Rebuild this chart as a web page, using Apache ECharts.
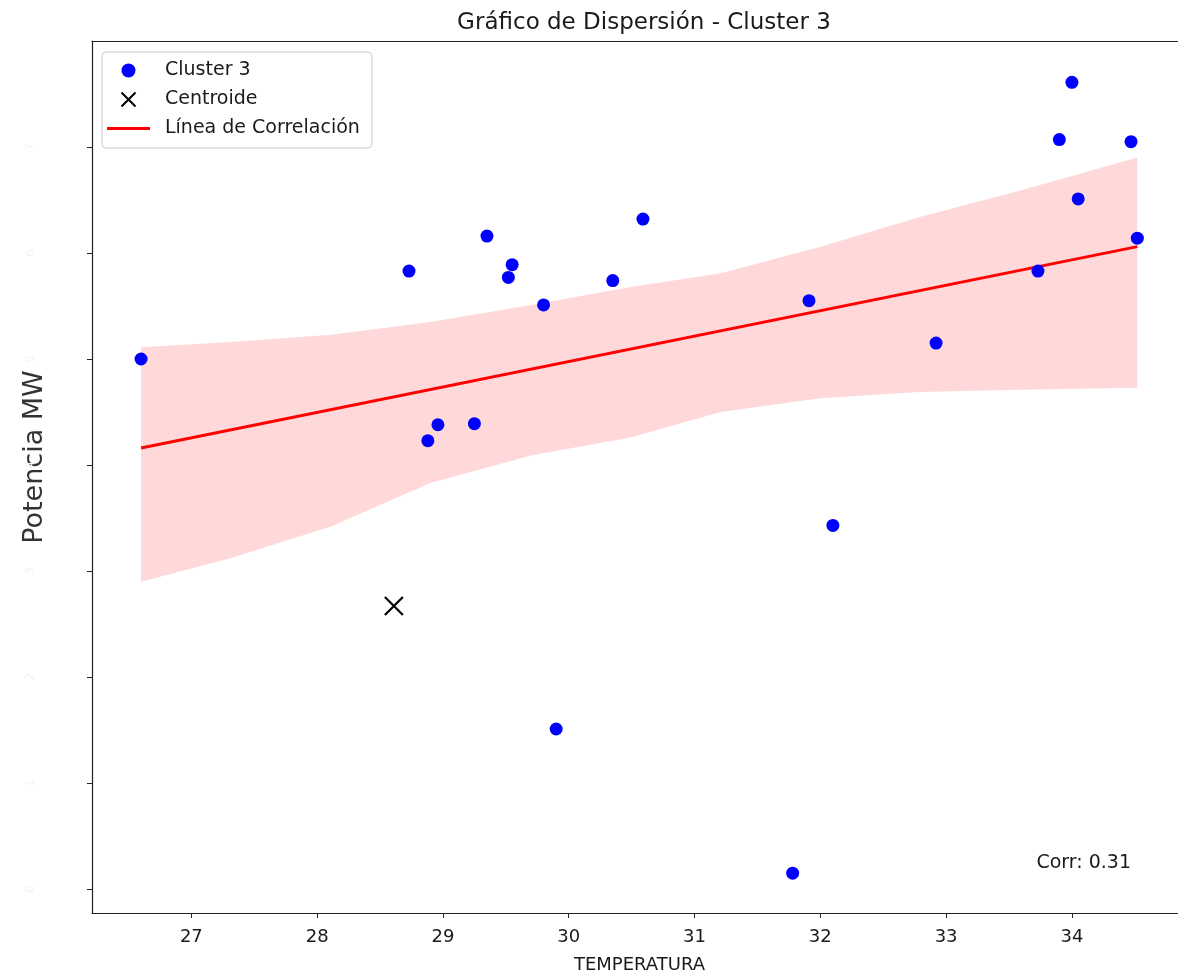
<!DOCTYPE html>
<html>
<head>
<meta charset="utf-8">
<script src="https://cdn.jsdelivr.net/npm/echarts@6/dist/echarts.min.js"></script>
<style>
html,body{margin:0;padding:0;background:#fff;}
#chart{width:1178px;height:973px;}
</style>
</head>
<body>
<div id="chart"></div>
<script>
// ---- data ----
const clusterX = [26.60, 28.73, 28.88, 28.96, 29.25, 29.35, 29.52, 29.55, 29.80, 29.90, 30.35, 30.59, 31.78, 31.91, 32.10, 32.92, 33.73, 33.90, 34.00, 34.05, 34.47, 34.52];
const clusterY = [5.00, 5.83, 4.23, 4.38, 4.39, 6.16, 5.77, 5.89, 5.51, 1.51, 5.74, 6.32, 0.15, 5.55, 3.43, 5.15, 5.83, 7.07, 7.61, 6.51, 7.05, 6.14];
const centroidX = [28.61];
const centroidY = [2.67];
const regX = [26.60, 34.52];
const regY = [4.16, 6.06];
const bandX = [26.60, 27.31, 28.11, 28.90, 29.70, 30.49, 31.21, 32.00, 32.79, 33.59, 34.52];
const bandUpper = [5.11, 5.16, 5.23, 5.35, 5.51, 5.68, 5.81, 6.06, 6.34, 6.59, 6.90];
const bandLower = [2.90, 3.12, 3.42, 3.83, 4.09, 4.26, 4.50, 4.63, 4.69, 4.71, 4.73];
const xTickValues = [27, 28, 29, 30, 31, 32, 33, 34];
const yTickValues = [0, 1, 2, 3, 4, 5, 6, 7];
const yTickLabels = ['0', '1', '2', '3', '4', '5', '6', '7'];
const corrText = 'Corr: 0.31';

const FONT = 'DejaVu Sans';
const chart = echarts.init(document.getElementById('chart'), null, {renderer: 'canvas'});

const xMin = 26.21, xMax = 34.915, yMin = -0.226, yMax = 8.0;
const LINE_ICON = 'path://M0,0 L0.01,0 L0.01,0.01 Z M0,5.5 L43,5.5 L43,8.5 L0,8.5 Z M0,14 L0.01,14 L0.01,13.99 Z';

const option = {
  animation: false,
  backgroundColor: '#ffffff',
  textStyle: {fontFamily: FONT},
  title: {
    text: 'Gráfico de Dispersión - Cluster 3',
    left: 639, textAlign: 'center', top: 7,
    textStyle: {fontFamily: FONT, fontSize: 23, fontWeight: 'normal', color: '#1a1a1a'}
  },
  grid: {left: 92, right: -9, top: 41, bottom: 60, show: false, outerBoundsMode: 'none', containLabel: false},
  legend: {
    orient: 'vertical', left: 102, top: 52,
    padding: [9, 12, 10, 5],
    itemGap: 10, itemWidth: 43, itemHeight: 14,
    backgroundColor: 'rgba(255,255,255,0.85)',
    borderColor: '#cccccc', borderWidth: 1, borderRadius: 4,
    textStyle: {fontFamily: FONT, fontSize: 19, color: '#1a1a1a', lineHeight: 19, padding: [0, 0, 0, 10]},
    data: ['Cluster 3', 'Centroide', {name: 'Línea de Correlación', icon: LINE_ICON}]
  },
  xAxis: [{
    type: 'value', min: xMin, max: xMax,
    name: 'TEMPERATURA', nameLocation: 'middle', nameGap: 43,
    nameTextStyle: {fontFamily: FONT, fontSize: 18, color: '#1a1a1a'},
    axisLine: {show: true, onZero: false, lineStyle: {color: '#222', width: 1.2}},
    axisTick: {show: true, length: 5, customValues: xTickValues, lineStyle: {color: '#222'}},
    axisLabel: {customValues: xTickValues, margin: 15, fontFamily: FONT, fontSize: 18, color: '#1a1a1a'},
    splitLine: {show: false}
  }, {
    type: 'value', min: xMin, max: xMax, position: 'top',
    axisLine: {show: true, onZero: false, lineStyle: {color: '#222', width: 1.2}},
    axisTick: {show: false}, axisLabel: {show: false}, splitLine: {show: false}
  }],
  yAxis: [{
    type: 'value', min: yMin, max: yMax,
    name: 'Potencia MW', nameLocation: 'middle', nameGap: 44, nameMoveOverlap: false,
    nameTextStyle: {fontFamily: FONT, fontSize: 27, color: '#333', padding: [0, 0, 0, 40]},
    axisLine: {show: true, onZero: false, lineStyle: {color: '#222', width: 1.2}},
    axisTick: {show: true, length: 5, customValues: yTickValues, lineStyle: {color: '#222'}},
    axisLabel: {
      customValues: yTickValues, rotate: 90, margin: 55,
      fontFamily: FONT, fontSize: 12, color: '#f3f3f3',
      formatter: v => { const i = yTickValues.indexOf(v); return i >= 0 ? yTickLabels[i] : ''; }
    },
    splitLine: {show: false}
  }],
  graphic: [{
    type: 'text', right: 47, top: 854,
    style: {text: corrText, fontFamily: FONT, fontSize: 19, fill: '#1a1a1a'}
  }],
  series: [
    {
      name: 'band', type: 'custom', z: 1, silent: true,
      data: bandX.map((x, i) => [x, bandUpper[i], bandLower[i]]),
      renderItem: function (params, api) {
        if (params.dataIndex !== 0) return null;
        const pts = [];
        for (let i = 0; i < bandX.length; i++) pts.push(api.coord([bandX[i], bandUpper[i]]));
        for (let i = bandX.length - 1; i >= 0; i--) pts.push(api.coord([bandX[i], bandLower[i]]));
        return {type: 'polygon', shape: {points: pts}, style: {fill: 'rgba(255,0,0,0.15)', stroke: null}};
      }
    },
    {
      name: 'Línea de Correlación', type: 'line', z: 3,
      data: regX.map((x, i) => [x, regY[i]]),
      showSymbol: false, symbol: 'none',
      lineStyle: {color: '#ff0000', width: 3},
      itemStyle: {color: '#ff0000'}
    },
    {
      name: 'Cluster 3', type: 'scatter', z: 4,
      data: clusterX.map((x, i) => [x, clusterY[i]]),
      symbol: 'circle', symbolSize: 13,
      itemStyle: {color: '#0000ff', opacity: 1}
    },
    {
      name: 'Centroide', type: 'scatter', z: 5,
      data: centroidX.map((x, i) => [x, centroidY[i]]),
      symbol: 'path://M0,0 L10,10 M10,0 L0,10', symbolSize: 18, symbolKeepAspect: true,
      itemStyle: {color: 'none', borderColor: '#000000', borderWidth: 2.2, opacity: 1}
    }
  ]
};
chart.setOption(option);
</script>
</body>
</html>
